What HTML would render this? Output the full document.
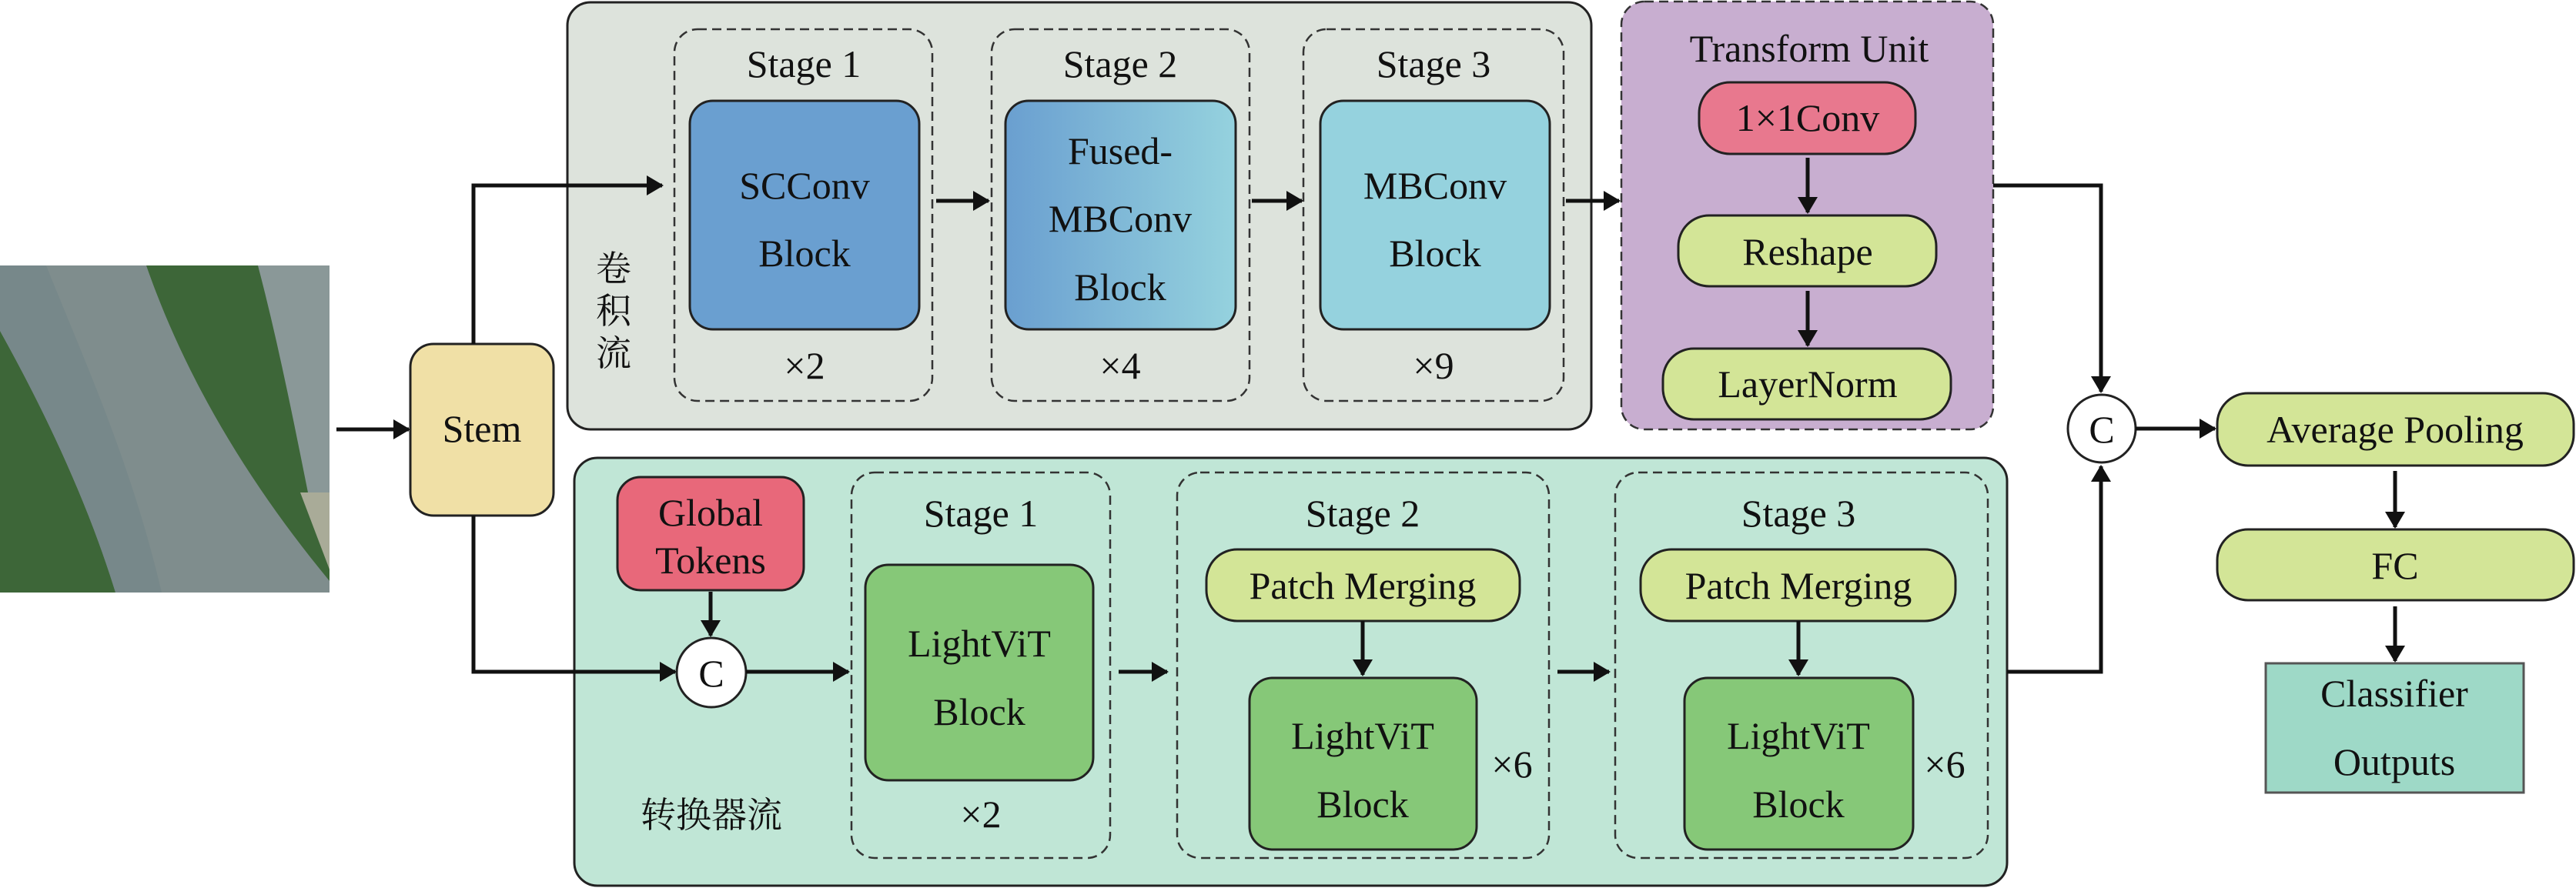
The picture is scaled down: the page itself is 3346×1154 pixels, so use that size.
<!DOCTYPE html>
<html><head><meta charset="utf-8"><style>
html,body{margin:0;padding:0;background:#fff;}
svg{display:block;}
</style></head><body>
<svg width="3346" height="1154" viewBox="0 0 3346 1154" xmlns="http://www.w3.org/2000/svg" font-family="'Liberation Serif', 'Noto Serif CJK SC', serif">
<defs>
<marker id="ah" markerWidth="22" markerHeight="26" refX="20" refY="13" orient="auto" markerUnits="userSpaceOnUse" viewBox="0 0 22 26"><path d="M0,0 L22,13 L0,26 z" fill="#111"/></marker>
<linearGradient id="fg" x1="0" y1="0" x2="1" y2="0"><stop offset="0" stop-color="#6a9fd0"/><stop offset="1" stop-color="#95d2de"/></linearGradient>
</defs>
<style>
text{font-family:"Liberation Serif","Noto Serif CJK SC",serif;fill:#111;text-anchor:middle;}
.a{stroke:#111;stroke-width:5;fill:none;}
.b{stroke:#222;stroke-width:3;}
.d{stroke:#333;stroke-width:2.5;stroke-dasharray:12 7;}
.t{font-size:50px;}
.s{font-size:46px;font-family:"Noto Serif CJK SC","Liberation Serif",serif;}
</style>
<!-- photo -->
<g>
<rect x="0" y="345" width="428" height="425" fill="#3d6638"/>
<path d="M0,345 L190,345 C230,460 300,600 428,755 L428,770 L150,770 C110,640 50,520 0,430 Z" fill="#7f8d8d"/>
<path d="M0,345 L60,345 C110,470 170,600 210,770 L150,770 C110,640 50,520 0,430Z" fill="#77888a"/>
<path d="M335,345 L428,345 L428,640 L400,640 C380,540 360,440 335,345Z" fill="#8a9898"/>
<path d="M390,640 L428,640 L428,740 Z" fill="#a9ab98"/>
</g>
<!-- stem -->
<line class="a" x1="437" y1="558" x2="531" y2="558" marker-end="url(#ah)"/>
<rect x="533" y="447" width="186" height="223" rx="30" style="fill:#f0e0a6" class="b"/>
<text x="626" y="574" class="t">Stem</text>
<!-- top panel -->
<rect x="737" y="3" width="1330" height="555" rx="30" style="fill:#dde3dc" class="b"/>
<!-- transform unit -->
<rect x="2106" y="2" width="483" height="556" rx="30" style="fill:#c8aed0" class="d"/>
<!-- bottom panel -->
<rect x="746" y="595" width="1861" height="556" rx="30" style="fill:#c0e6d6" class="b"/>
<!-- stem branches -->
<polyline class="a" points="615,447 615,241 860,241" marker-end="url(#ah)"/>
<polyline class="a" points="615,670 615,873 877,873" marker-end="url(#ah)"/>
<!-- top stages -->
<rect x="876" y="38" width="335" height="483" rx="30" style="fill:none" class="d"/>
<rect x="1288" y="38" width="335" height="483" rx="30" style="fill:none" class="d"/>
<rect x="1693" y="38" width="338" height="483" rx="30" style="fill:none" class="d"/>
<text x="1044" y="100" class="t">Stage 1</text>
<text x="1455" y="100" class="t">Stage 2</text>
<text x="1862" y="100" class="t">Stage 3</text>
<rect x="896" y="131" width="298" height="297" rx="30" style="fill:#6a9fd0" class="b"/>
<rect x="1306" y="131" width="299" height="297" rx="30" style="fill:url(#fg)" class="b"/>
<rect x="1715" y="131" width="298" height="297" rx="30" style="fill:#95d2de" class="b"/>
<text x="1045" y="258" class="t">SCConv</text>
<text x="1045" y="346" class="t">Block</text>
<text x="1455" y="213" class="t">Fused-</text>
<text x="1455" y="301" class="t">MBConv</text>
<text x="1455" y="390" class="t">Block</text>
<text x="1864" y="258" class="t">MBConv</text>
<text x="1864" y="346" class="t">Block</text>
<text x="1045" y="492" class="t">×2</text>
<text x="1455" y="492" class="t">×4</text>
<text x="1862" y="492" class="t">×9</text>
<text x="797" y="365" class="s">卷</text>
<text x="797" y="420" class="s">积</text>
<text x="797" y="475" class="s">流</text>
<line class="a" x1="1216" y1="261" x2="1284" y2="261" marker-end="url(#ah)"/>
<line class="a" x1="1626" y1="261" x2="1691" y2="261" marker-end="url(#ah)"/>
<line class="a" x1="2034" y1="261" x2="2103" y2="261" marker-end="url(#ah)"/>
<!-- transform unit contents -->
<text x="2350" y="80" class="t">Transform Unit</text>
<rect x="2207" y="107" width="281" height="93" rx="40" style="fill:#e8788e" class="b"/>
<text x="2348" y="170" class="t">1×1Conv</text>
<line class="a" x1="2348" y1="205" x2="2348" y2="276" marker-end="url(#ah)"/>
<rect x="2180" y="280" width="335" height="92" rx="40" style="fill:#d3e597" class="b"/>
<text x="2348" y="344" class="t">Reshape</text>
<line class="a" x1="2348" y1="378" x2="2348" y2="449" marker-end="url(#ah)"/>
<rect x="2160" y="453" width="374" height="92" rx="40" style="fill:#d3e597" class="b"/>
<text x="2348" y="516" class="t">LayerNorm</text>
<!-- bottom contents -->
<rect x="802" y="620" width="242" height="147" rx="30" style="fill:#e8687a" class="b"/>
<text x="923" y="683" class="t">Global</text>
<text x="923" y="745" class="t">Tokens</text>
<line class="a" x1="923" y1="769" x2="923" y2="826" marker-end="url(#ah)"/>
<circle cx="924" cy="874" r="45" style="fill:#fff" class="b"/>
<text x="924" y="892" class="t">C</text>
<line class="a" x1="969" y1="873" x2="1102" y2="873" marker-end="url(#ah)"/>
<rect x="1106" y="614" width="336" height="501" rx="30" style="fill:none" class="d"/>
<rect x="1529" y="614" width="483" height="501" rx="30" style="fill:none" class="d"/>
<rect x="2098" y="614" width="484" height="501" rx="30" style="fill:none" class="d"/>
<text x="1274" y="684" class="t">Stage 1</text>
<text x="1770" y="684" class="t">Stage 2</text>
<text x="2336" y="684" class="t">Stage 3</text>
<rect x="1124" y="734" width="296" height="280" rx="30" style="fill:#86c878" class="b"/>
<text x="1272" y="853" class="t">LightViT</text>
<text x="1272" y="942" class="t">Block</text>
<text x="1274" y="1075" class="t">×2</text>
<text x="924" y="1075" class="s">转换器流</text>
<line class="a" x1="1453" y1="873" x2="1516" y2="873" marker-end="url(#ah)"/>
<rect x="1567" y="714" width="407" height="93" rx="40" style="fill:#d3e597" class="b"/>
<text x="1770" y="778" class="t">Patch Merging</text>
<line class="a" x1="1770" y1="807" x2="1770" y2="877" marker-end="url(#ah)"/>
<rect x="1623" y="881" width="295" height="223" rx="30" style="fill:#86c878" class="b"/>
<text x="1770" y="973" class="t">LightViT</text>
<text x="1770" y="1062" class="t">Block</text>
<text x="1964" y="1010" class="t">×6</text>
<line class="a" x1="2023" y1="873" x2="2090" y2="873" marker-end="url(#ah)"/>
<rect x="2131" y="714" width="409" height="93" rx="40" style="fill:#d3e597" class="b"/>
<text x="2336" y="778" class="t">Patch Merging</text>
<line class="a" x1="2336" y1="807" x2="2336" y2="877" marker-end="url(#ah)"/>
<rect x="2188" y="881" width="297" height="223" rx="30" style="fill:#86c878" class="b"/>
<text x="2336" y="973" class="t">LightViT</text>
<text x="2336" y="1062" class="t">Block</text>
<text x="2526" y="1010" class="t">×6</text>
<!-- merge -->
<polyline class="a" points="2589,241 2729,241 2729,509" marker-end="url(#ah)"/>
<polyline class="a" points="2607,873 2729,873 2729,606" marker-end="url(#ah)"/>
<circle cx="2730" cy="557" r="44" style="fill:#fff" class="b"/>
<text x="2730" y="575" class="t">C</text>
<line class="a" x1="2774" y1="557" x2="2877" y2="557" marker-end="url(#ah)"/>
<rect x="2880" y="511" width="463" height="94" rx="40" style="fill:#d3e597" class="b"/>
<text x="3111" y="575" class="t">Average Pooling</text>
<line class="a" x1="3111" y1="612" x2="3111" y2="685" marker-end="url(#ah)"/>
<rect x="2880" y="688" width="463" height="92" rx="40" style="fill:#d3e597" class="b"/>
<text x="3111" y="752" class="t">FC</text>
<line class="a" x1="3111" y1="788" x2="3111" y2="859" marker-end="url(#ah)"/>
<rect x="2943" y="862" width="335" height="168" style="fill:#9ed9c7;stroke:#555" class="b"/>
<text x="3110" y="918" class="t">Classifier</text>
<text x="3110" y="1007" class="t">Outputs</text>
</svg>
</body></html>
